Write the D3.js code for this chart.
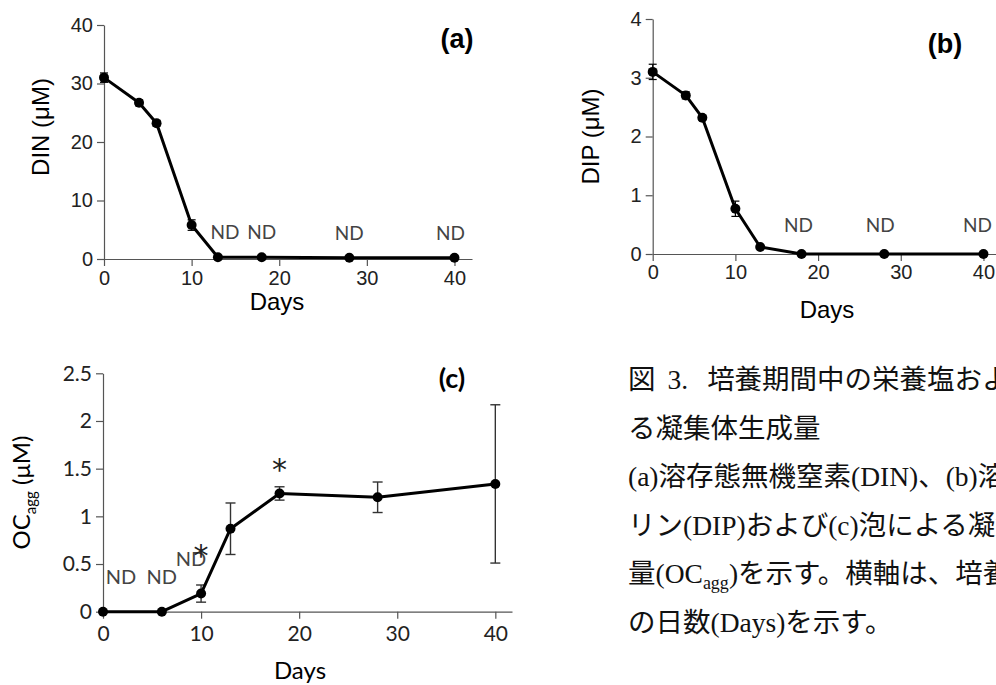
<!DOCTYPE html>
<html>
<head>
<meta charset="utf-8">
<script src="https://cdn.jsdelivr.net/npm/d3@7"></script>
<style>
  body { margin: 0; background: #fff; }
  svg { display: block; }
</style>
</head>
<body>
<div id="chart"></div>
<script>
// sampling days and values
const days = [0, 4, 6, 10, 13, 18, 28, 40];
const dinValues = [31.0, 26.7, 23.2, 5.8, 0.3, 0.3, 0.2, 0.2];
const dinErrors = [0.8, 0.5, 0.5, 0.9, 0, 0, 0, 0];
const dinND = [13, 18, 28, 40];

const dipValues = [3.1, 2.7, 2.32, 0.77, 0.12, 0, 0, 0];
const dipErrors = [0.13, 0.06, 0.04, 0.13, 0.02, 0, 0, 0];
const dipND = [18, 28, 40];

const ocDays = [0, 6, 10, 13, 18, 28, 40];
const ocValues = [0, 0, 0.19, 0.87, 1.24, 1.2, 1.34];
const ocErrors = [0, 0, 0.09, 0.27, 0.07, 0.16, 0.83];
const ocND = [0, 6, 10];
const ocStars = [10, 18];

const dayTicks = [0, 10, 20, 30, 40];
const dinTicks = [0, 10, 20, 30, 40];
const dipTicks = [0, 1, 2, 3, 4];
const ocTicks = [0, 0.5, 1, 1.5, 2, 2.5];

const captionHead = ["図", "3.", "培養期間中の栄養塩および泡によ"];
const captionLines = [
  "る凝集体生成量",
  "(a)溶存態無機窒素(DIN)、(b)溶存態無機",
  "リン(DIP)および(c)泡による凝集体生成",
  ["量(OC", "agg", ")を示す。横軸は、培養期間"],
  "の日数(Days)を示す。"
];

const width = 996, height = 685;

let svg = d3.select("#chart")
    .append("svg")
    .attr("width", width)
    .attr("height", height);

function drawPanel(p) {
    let x = d3.scaleLinear().domain([0, p.xMax]).range([p.left, p.right]);
    let y = d3.scaleLinear().domain(p.yDomain).range([p.bottom, p.top]);
    let g = svg.append("g");

    // axes
    let xAxis = g.append("g")
        .attr("transform", `translate(0,${p.bottom})`)
        .call(d3.axisBottom(x).tickValues(dayTicks).tickFormat(function(d) { return d; })
            .tickSize(7).tickSizeOuter(0).tickPadding(p.xPad));
    let yAxis = g.append("g")
        .attr("transform", `translate(${p.left},0)`)
        .call(d3.axisLeft(y).tickValues(p.yTicks).tickFormat(function(d) { return d; })
            .tickSize(7).tickSizeOuter(0).tickPadding(4));
    [xAxis, yAxis].forEach(function(a) {
        a.select(".domain").attr("stroke", "#555").attr("stroke-width", 1.2);
        a.selectAll(".tick line").attr("stroke", "#555").attr("stroke-width", 1.2);
        a.selectAll(".tick text")
            .attr("fill", "#222")
            .style("font-family", p.font)
            .style("font-size", p.tickSize + "px");
    });

    let pts = p.xs.map(function(d, i) { return { day: d, v: p.values[i], e: p.errors[i] }; });

    // error bars
    let eb = g.append("g").attr("stroke", p.errColor).attr("stroke-width", p.errWidth);
    pts.filter(function(d) { return d.e > 0; }).forEach(function(d) {
        eb.append("line")
            .attr("x1", x(d.day)).attr("x2", x(d.day))
            .attr("y1", y(d.v - d.e)).attr("y2", y(d.v + d.e));
        [d.v - d.e, d.v + d.e].forEach(function(v) {
            eb.append("line")
                .attr("x1", x(d.day) - p.cap).attr("x2", x(d.day) + p.cap)
                .attr("y1", y(v)).attr("y2", y(v));
        });
    });

    g.append("path")
        .datum(pts)
        .attr("fill", "none")
        .attr("stroke", "#000")
        .attr("stroke-width", 3)
        .attr("stroke-linejoin", "round")
        .attr("d", d3.line().x(function(d) { return x(d.day); }).y(function(d) { return y(d.v); }));

    g.selectAll("circle.pt").data(pts).enter()
        .append("circle")
        .attr("cx", function(d) { return x(d.day); })
        .attr("cy", function(d) { return y(d.v); })
        .attr("r", 5)
        .attr("fill", "#000");

    // ND labels (small nudges so they sit like the original)
    g.selectAll("text.nd").data(p.nd).enter()
        .append("text")
        .attr("x", function(d, i) { return x(d) + p.ndShift[i]; })
        .attr("y", function(d) { return y(pts.find(function(q) { return q.day === d; }).v) - p.ndRise; })
        .attr("text-anchor", "middle")
        .attr("fill", "#444")
        .style("font-family", "Lato, 'Open Sans', sans-serif")
        .style("font-size", p.ndSize + "px")
        .text("ND");

    // panel letter
    g.append("text")
        .attr("x", p.letterX).attr("y", p.letterY)
        .attr("text-anchor", "middle")
        .style("font-family", p.font)
        .style("font-weight", "bold")
        .style("font-size", "27px")
        .text(p.letter);

    // x label
    g.append("text")
        .attr("x", p.daysX).attr("y", p.daysY)
        .attr("text-anchor", "middle")
        .style("font-family", p.font)
        .style("font-size", p.titleSize + "px")
        .text("Days");

    // y label
    let yl = g.append("text")
        .attr("transform", `translate(${p.yLabelX},${(p.top + p.bottom) / 2 + p.yLabelShift}) rotate(-90)`)
        .attr("text-anchor", "middle")
        .style("font-family", p.font)
        .style("font-size", p.titleSize + "px");
    p.yLabel.forEach(function(part) {
        let t = yl.append("tspan").text(part.t);
        if (part.sub) t.attr("dy", 6).style("font-size", "15px");
        if (part.after) t.attr("dy", -6);
    });

    return { x: x, y: y, g: g, pts: pts };
}

drawPanel({
    left: 104, right: 472, top: 25, bottom: 259, xMax: 42, yDomain: [0, 40],
    yTicks: dinTicks, xs: days, values: dinValues, errors: dinErrors,
    nd: dinND, ndShift: [7, 0, 0, -4], ndRise: 18, ndSize: 19,
    font: "'Liberation Sans', Arial, sans-serif", tickSize: 20, titleSize: 24, xPad: 5,
    errColor: "#000", errWidth: 1.2, cap: 4,
    letter: "(a)", letterX: 457, letterY: 48,
    daysX: 277, daysY: 310,
    yLabel: [{ t: "DIN (μM)" }], yLabelX: 49, yLabelShift: -15
});

drawPanel({
    left: 652.7, right: 1000, top: 19, bottom: 254, xMax: 42, yDomain: [0, 4],
    yTicks: dipTicks, xs: days, values: dipValues, errors: dipErrors,
    nd: dipND, ndShift: [-3, -4, -6], ndRise: 22, ndSize: 19,
    font: "'Liberation Sans', Arial, sans-serif", tickSize: 20, titleSize: 24, xPad: 4,
    errColor: "#000", errWidth: 1.2, cap: 4,
    letter: "(b)", letterX: 945, letterY: 53,
    daysX: 827, daysY: 318,
    yLabel: [{ t: "DIP (μM)" }], yLabelX: 599, yLabelShift: 0
});

let pc = drawPanel({
    left: 103, right: 512, top: 373.3, bottom: 611.7, xMax: 41.7, yDomain: [0, 2.5],
    yTicks: ocTicks, xs: ocDays, values: ocValues, errors: ocErrors,
    nd: ocND, ndShift: [18, 0, -10], ndRise: 28, ndSize: 20,
    font: "Lato, 'Open Sans', sans-serif", tickSize: 21, titleSize: 24, xPad: 7,
    errColor: "#333", errWidth: 1.4, cap: 5,
    letter: "(c)", letterX: 452, letterY: 388,
    daysX: 300, daysY: 679,
    yLabel: [{ t: "OC" }, { t: "agg", sub: true }, { t: " (μM)", after: true }], yLabelX: 30, yLabelShift: 0
});

// significance marks, lifted above the error bar tops
const starLift = [19, 7];
pc.g.selectAll("text.star").data(ocStars).enter()
    .append("text")
    .attr("x", function(d) { return pc.x(d); })
    .attr("y", function(d, i) {
        let q = pc.pts.find(function(p) { return p.day === d; });
        return pc.y(q.v + q.e) - starLift[i];
    })
    .attr("text-anchor", "middle")
    .attr("fill", "#222")
    .style("font-family", "'DejaVu Sans', sans-serif")
    .style("font-size", "30px")
    .text("*");

// caption
let cap = svg.append("g")
    .style("font-family", "'Liberation Serif', 'Noto Sans CJK JP', serif")
    .style("font-size", "27.5px")
    .attr("fill", "#111");
let head = cap.append("text").attr("x", 628).attr("y", 389);
head.append("tspan").text(captionHead[0]);
head.append("tspan").attr("dx", 12).text(captionHead[1]);
head.append("tspan").attr("dx", 19).text(captionHead[2]);
captionLines.forEach(function(line, i) {
    let t = cap.append("text").attr("x", 628).attr("y", 389 + (i + 1) * 48.5);
    if (Array.isArray(line)) {
        t.append("tspan").text(line[0]);
        t.append("tspan").attr("dy", 6).style("font-size", "18px").text(line[1]);
        t.append("tspan").attr("dy", -6).text(line[2]);
    } else {
        t.text(line);
    }
});
</script>
</body>
</html>
